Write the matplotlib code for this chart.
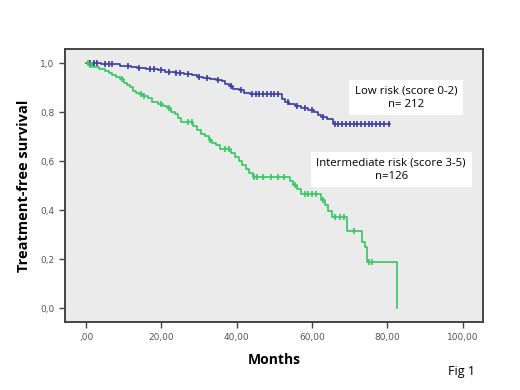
import numpy as np
import matplotlib
matplotlib.use('Agg')
import matplotlib.pyplot as plt

# Kaplan-Meier steps: (event time, survival after event)
low_times = [0, 4, 9, 12, 13.5, 16, 19, 21, 23.5, 26, 28, 29.5, 31, 33, 34.5, 36, 37,
             38, 39, 40.5, 42, 43.5, 52, 52.8, 54, 55.5, 57, 59, 60.5, 61.5, 62.5, 64, 65.5]
low_surv = [1.0, 0.995, 0.99, 0.985, 0.98, 0.975, 0.97, 0.965, 0.96, 0.955, 0.95, 0.945,
            0.94, 0.935, 0.93, 0.925, 0.915, 0.905, 0.895, 0.89, 0.88, 0.873, 0.855, 0.84,
            0.832, 0.824, 0.816, 0.808, 0.80, 0.79, 0.78, 0.77, 0.752]
low_end = 80.6
low_censor = [1, 2, 3, 5, 6, 7, 11, 14, 17, 18, 20, 22, 24, 25, 27, 30, 32, 35, 38.5, 41,
              44, 45, 46, 47, 48, 49, 50, 51, 53.5, 56, 58, 60, 63, 66, 67, 68, 69, 70, 71,
              72, 73, 74, 75, 76, 77, 78, 79, 80.5]

int_times = [0, 0.8, 2, 3.5, 5, 6, 7, 8, 9, 10, 10.8, 11.6, 12.4, 13.2, 14, 15,
             16.5, 17.5, 19, 20.5, 21.5, 22.5, 23.5, 24.5, 25.2, 28.5, 29.5, 30.5, 31.5,
             32.5, 33.5, 34.5, 35.5, 38.5, 39.5, 40.5, 41.5, 42.5, 43.3, 44.2, 54.2, 55,
             56, 57, 62.3, 63.5, 64.2, 65.3, 69.4, 73.3, 74, 74.5, 82.6]
int_surv = [1.0, 0.992, 0.984, 0.976, 0.968, 0.96, 0.952, 0.944, 0.936, 0.92, 0.912,
            0.904, 0.888, 0.88, 0.872, 0.864, 0.856, 0.84, 0.832, 0.824, 0.816, 0.8, 0.792,
            0.776, 0.76, 0.744, 0.728, 0.712, 0.704, 0.688, 0.672, 0.664, 0.648, 0.632,
            0.616, 0.6, 0.584, 0.568, 0.552, 0.536, 0.52, 0.504, 0.488, 0.466, 0.44, 0.42,
            0.395, 0.37, 0.316, 0.27, 0.25, 0.19, 0.0]
int_end = 82.6
int_censor = [0.5, 1, 1.5, 9.5, 14.5, 15.5, 20, 22, 27, 28, 33, 37, 38, 44.5, 45.5, 47,
              49, 51, 52.5, 55.5, 58, 59, 60, 61, 63, 66, 67.5, 68.5, 71, 75, 76]

x_ticks = [0, 20, 40, 60, 80, 100]
x_labels = [',00', '20,00', '40,00', '60,00', '80,00', '100,00']
y_ticks = [0, 0.2, 0.4, 0.6, 0.8, 1.0]
y_labels = ['0,0', '0,2', '0,4', '0,6', '0,8', '1,0']

BLUE = '#3a3aa4'
GREEN = '#34c760'


def km_curve(ax, times, surv, end, censor, color):
    t = list(times) + [end]
    s = list(surv) + [surv[-1]]
    ax.step(t, s, where='post', color=color, lw=1.2, zorder=3)
    # censor marks sit on the step function
    idx = np.searchsorted(times, censor, side='right') - 1
    cy = np.array(surv)[idx]
    ax.plot(censor, cy, ls='none', marker='|', ms=5, mew=1.2, color=color, zorder=4)


fig = plt.figure(figsize=(5.2, 3.9), dpi=100)
ax = fig.add_axes([0.125, 0.174, 0.804, 0.700])
ax.set_facecolor('#ebebeb')

km_curve(ax, low_times, low_surv, low_end, low_censor, BLUE)
km_curve(ax, int_times, int_surv, int_end, int_censor, GREEN)

ax.set_xlim(-5.6, 105.4)
ax.set_ylim(-0.057, 1.057)
ax.set_xticks(x_ticks)
ax.set_xticklabels(x_labels)
ax.set_yticks(y_ticks)
ax.set_yticklabels(y_labels)
ax.tick_params(direction='out', length=4, width=1, colors='#444444', labelsize=6.5,
               labelcolor='#555555')
for sp in ax.spines.values():
    sp.set_color('#444444')
    sp.set_linewidth(1.4)

ax.set_ylabel('Treatment-free survival', fontsize=10.5, fontweight='bold',
              family='Open Sans', labelpad=7)
ax.set_xlabel('Months', fontsize=10, fontweight='bold', family='Open Sans', labelpad=8)

box = dict(facecolor='white', edgecolor='none', pad=4)
ax.text(85.0, 0.86, 'Low risk (score 0-2)\nn= 212', ha='center', va='center',
        fontsize=8.2, family='Open Sans', bbox=box, linespacing=1.3)
ax.text(81.0, 0.565, 'Intermediate risk (score 3-5)\nn=126', ha='center', va='center',
        fontsize=8.2, family='Open Sans', bbox=box, linespacing=1.3)

fig.text(462 / 520, 1 - 371 / 390, 'Fig 1', ha='center', va='center', fontsize=9,
         family='Open Sans')

fig.savefig('out.png', dpi=100)
